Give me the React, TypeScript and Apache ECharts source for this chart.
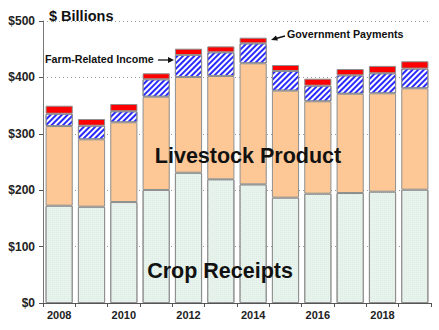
import React, { useEffect, useRef } from "react";
import * as echarts from "echarts";

const years = ["2008","2009","2010","2011","2012","2013","2014","2015","2016","2017","2018","2019"];
const cropReceipts = [172.5,170.8,179.0,200.4,231.0,219.3,210.4,186.8,193.8,195.0,197.4,200.9];
const livestockProduct = [141.3,119.4,141.4,165.4,169.7,183.2,214.6,189.7,163.8,176.0,174.4,179.8];
const farmRelatedIncome = [21.8,24.2,19.5,30.8,39.0,42.0,35.4,34.8,27.7,32.7,35.5,34.9];
const governmentPayments = [14.2,11.8,12.9,10.7,11.2,10.5,10.0,10.7,12.4,11.2,13.1,13.0];

const FONT = "'Liberation Sans', Arial, sans-serif";

export default function App() {
  const ref = useRef<HTMLDivElement>(null);
  useEffect(() => {
    if (!ref.current) return;
    const chart = echarts.init(ref.current, null, { renderer: "svg" });
    const border = { borderColor: "#8f8f8f", borderWidth: 1 };
    chart.setOption({
      animation: false,
      grid: { left: 43, right: 8, top: 21, bottom: 27 },
      xAxis: {
        type: "category",
        data: years,
        axisLine: { lineStyle: { color: "#555", width: 1 } },
        axisTick: { show: true, interval: 0, length: 4, lineStyle: { color: "#555" } },
        axisLabel: { interval: 1, fontFamily: FONT, fontWeight: "bold", fontSize: 11, color: "#222", margin: 6 },
      },
      yAxis: {
        type: "value",
        min: 0,
        max: 500,
        interval: 100,
        axisLine: { show: true, lineStyle: { color: "#777", width: 1 } },
        axisTick: { show: true, length: 4, lineStyle: { color: "#555" } },
        axisLabel: { formatter: (v: number) => "$" + v, fontFamily: FONT, fontWeight: "bold", fontSize: 12, color: "#222", margin: 8 },
        splitLine: { lineStyle: { color: "#999", type: [1, 3], width: 1 } },
      },
      series: [
        {
          name: "Crop Receipts", type: "bar", stack: "t", data: cropReceipts, barCategoryGap: "16%",
          itemStyle: { color: "#e7f3ec", ...border, decal: { symbol: "rect", symbolSize: 1, color: "#dcede3", dashArrayX: [1, 1], dashArrayY: [1, 1] } },
        },
        {
          name: "Livestock Product", type: "bar", stack: "t", data: livestockProduct,
          itemStyle: { color: "#fdc896", ...border },
        },
        {
          name: "Farm-Related Income", type: "bar", stack: "t", data: farmRelatedIncome,
          itemStyle: { color: "#ffffff", ...border, decal: { symbol: "rect", symbolSize: 1, color: "#2a2aff", dashArrayX: [1, 0], dashArrayY: [1.6, 1.6], rotation: -Math.PI / 4 } },
        },
        {
          name: "Government Payments", type: "bar", stack: "t", data: governmentPayments,
          itemStyle: { color: "#ff0000", ...border },
        },
      ],
      graphic: [
        { type: "text", z: 100, x: 49, y: 16, style: { text: "$ Billions", font: `bold 14.5px ${FONT}`, fill: "#111", verticalAlign: "middle" } },
        { type: "text", z: 100, x: 248, y: 156, style: { text: "Livestock Product", font: `bold 21.5px ${FONT}`, fill: "#111", align: "center", verticalAlign: "middle" } },
        { type: "text", z: 100, x: 220, y: 271, style: { text: "Crop Receipts", font: `bold 21.5px ${FONT}`, fill: "#111", align: "center", verticalAlign: "middle" } },
        { type: "text", z: 100, x: 45, y: 59, style: { text: "Farm-Related Income", font: `bold 10.7px ${FONT}`, fill: "#111", verticalAlign: "middle" } },
        { type: "line", z: 100, shape: { x1: 158, y1: 60, x2: 170, y2: 60 }, style: { stroke: "#111", lineWidth: 1.3 } },
        { type: "polygon", z: 100, shape: { points: [[174, 60], [168, 57], [168, 63]] }, style: { fill: "#111" } },
        { type: "text", z: 100, x: 287, y: 34, style: { text: "Government Payments", font: `bold 10.7px ${FONT}`, fill: "#111", verticalAlign: "middle" } },
        { type: "line", z: 100, shape: { x1: 285, y1: 36, x2: 276, y2: 38.5 }, style: { stroke: "#111", lineWidth: 1.3 } },
        { type: "polygon", z: 100, shape: { points: [[271, 40], [276, 35.5], [278, 40.5]] }, style: { fill: "#111" } },
      ],
    });
    return () => chart.dispose();
  }, []);
  return <div ref={ref} style={{ width: 439, height: 330, position: "absolute", left: 0, top: 0 }} />;
}
